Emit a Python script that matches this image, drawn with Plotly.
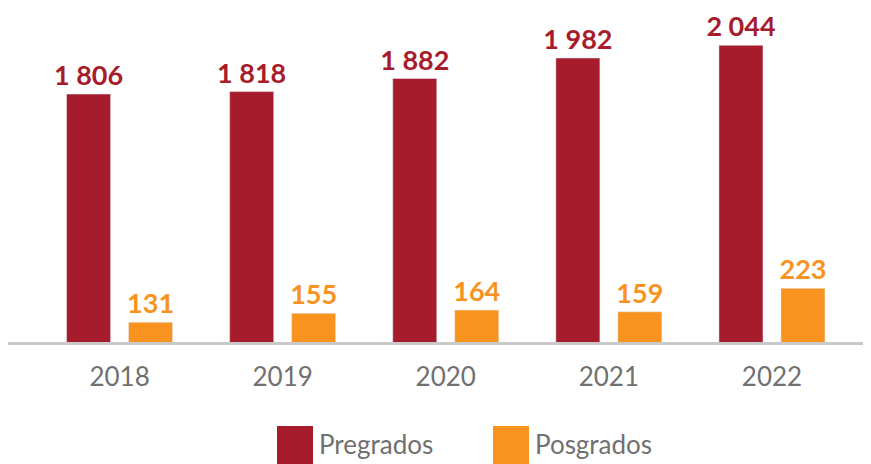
import plotly.graph_objects as go

years = ["2018", "2019", "2020", "2021", "2022"]
pregrados = [1806, 1818, 1882, 1982, 2044]
posgrados = [131, 155, 164, 159, 223]

RED = "#A71C2C"
ORANGE = "#F7931E"
GRAY_TXT = "#707070"

def fmt(v):
    return f"{v:,}".replace(",", " ")

W, H = 871, 464
# page body adds an 8px offset; compensate in the margins
OFF = 8
mt, mb, ml, mr = 2, 130, 0, 0
plot_h = H - mt - mb
plot_w = W - ml - mr

bw = 0.27
fig = go.Figure()
fig.add_trace(go.Bar(
    x=years, y=pregrados, name="Pregrados", marker_color=RED,
    width=bw, offset=-0.325, text=[fmt(v) for v in pregrados],
    textposition="outside", cliponaxis=False, constraintext="none",
    textfont=dict(family="Lato", size=27, color=RED, weight="bold"),
    yaxis="y", showlegend=False,
))
fig.add_trace(go.Bar(
    x=years, y=posgrados, name="Posgrados", marker_color=ORANGE,
    width=bw, offset=0.055, text=[fmt(v) for v in posgrados],
    textposition="outside", cliponaxis=False, constraintext="none",
    textfont=dict(family="Lato", size=27, color=ORANGE, weight="bold"),
    yaxis="y2", showlegend=False,
))

red_base, red_scale = 596, 0.2049
org_base, org_scale = 77, 0.3678

fig.update_layout(
    width=W, height=H,
    margin=dict(l=ml, r=mr, t=mt, b=mb),
    paper_bgcolor="white", plot_bgcolor="white",
    showlegend=False,
    xaxis=dict(
        type="category", range=[-0.684, -0.684 + plot_w / 163.1],
        showline=True, linecolor="#C9C9C9", linewidth=3,
        showgrid=False, ticks="", ticklabelstandoff=10,
        tickfont=dict(family="Lato", size=26, color=GRAY_TXT),
    ),
    yaxis=dict(range=[red_base, red_base + plot_h / red_scale], visible=False),
    yaxis2=dict(range=[org_base, org_base + plot_h / org_scale], visible=False,
                overlaying="y"),
)

# legend drawn manually (screen coords converted to figure coords)
legend_items = [("Pregrados", RED, 277), ("Posgrados", ORANGE, 493)]
def px(xs):
    return (xs - OFF - ml) / plot_w
def py(ys):
    return (H - mb - (ys - OFF)) / plot_h
for label, col, x0 in legend_items:
    fig.add_shape(type="rect", xref="paper", yref="paper",
                  x0=px(x0), x1=px(x0 + 36),
                  y0=py(480), y1=py(426),
                  fillcolor=col, line_width=0, layer="above")
    fig.add_annotation(xref="paper", yref="paper",
                       x=px(x0 + 40), y=py(444),
                       xanchor="left", yanchor="middle", showarrow=False,
                       text=label, font=dict(family="Lato", size=26, color=GRAY_TXT))

fig.write_html("out.html")
